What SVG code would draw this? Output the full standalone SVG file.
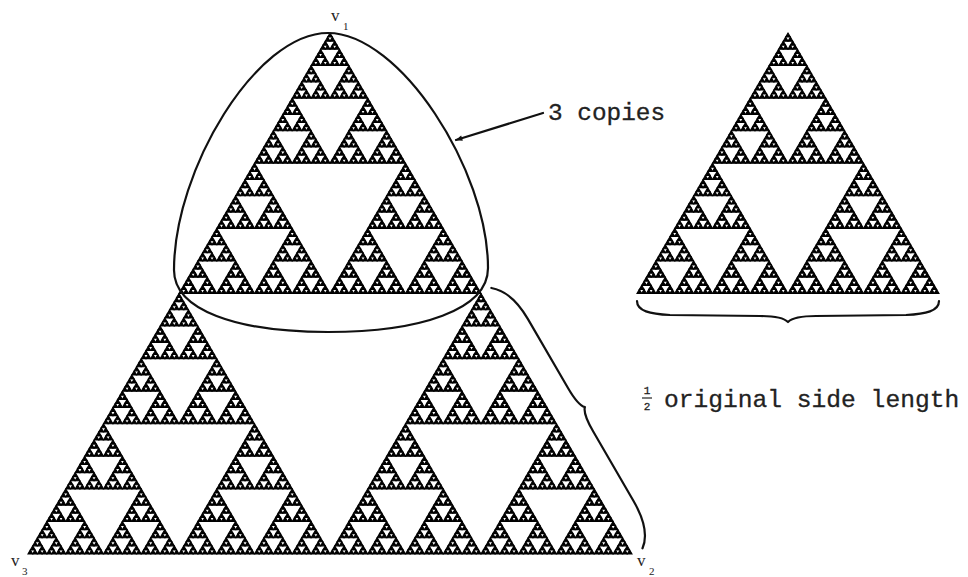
<svg xmlns="http://www.w3.org/2000/svg" xmlns:xlink="http://www.w3.org/1999/xlink" width="968" height="577" viewBox="0 0 968 577">
<style>
.tri{fill:#000;stroke:#000;stroke-width:1.1;stroke-linejoin:miter}
.line{fill:none;stroke:#111;stroke-width:2.2;stroke-linecap:round;stroke-linejoin:round}
.mono{font-family:"Liberation Mono","Courier New",monospace;fill:#222;stroke:#222;stroke-width:0.3}
.lbl{font-family:"Liberation Serif","Times New Roman",serif;fill:#222}
</style>
<defs>
<polygon id="t0" class="tri" points="0,0 2.359375,4.0703125 -2.359375,4.0703125"/>
<g id="t1"><use xlink:href="#t0"/><use xlink:href="#t0" x="-2.359375" y="4.0703125"/><use xlink:href="#t0" x="2.359375" y="4.0703125"/></g>
<g id="t2"><use xlink:href="#t1"/><use xlink:href="#t1" x="-4.71875" y="8.140625"/><use xlink:href="#t1" x="4.71875" y="8.140625"/></g>
<g id="t3"><use xlink:href="#t2"/><use xlink:href="#t2" x="-9.4375" y="16.28125"/><use xlink:href="#t2" x="9.4375" y="16.28125"/></g>
<g id="t4"><use xlink:href="#t3"/><use xlink:href="#t3" x="-18.875" y="32.5625"/><use xlink:href="#t3" x="18.875" y="32.5625"/></g>
<g id="t5"><use xlink:href="#t4"/><use xlink:href="#t4" x="-37.75" y="65.125"/><use xlink:href="#t4" x="37.75" y="65.125"/></g>
<g id="t6"><use xlink:href="#t5"/><use xlink:href="#t5" x="-75.5" y="130.25"/><use xlink:href="#t5" x="75.5" y="130.25"/></g>
<g id="t7"><use xlink:href="#t6"/><use xlink:href="#t6" x="-151" y="260.5"/><use xlink:href="#t6" x="151" y="260.5"/></g>
<marker id="arr" viewBox="0 0 10 10" refX="9" refY="5" markerWidth="8" markerHeight="7" markerUnits="userSpaceOnUse" orient="auto">
<path d="M0,1 L10,5 L0,9 Z" fill="#111"/>
</marker>
</defs>
<rect width="968" height="577" fill="#fff"/>
<g id="big-triangle"><use xlink:href="#t7" x="330" y="33"/></g>
<g id="small-triangle"><use xlink:href="#t6" x="788" y="33"/></g>
<g id="copies-ellipse">
<path class="line" d="M328,33 C400,33 488,170 488,268 C488,310 420,332 328,332 C236,332 174,310 174,270 C174,170 256,33 328,33 Z" stroke-width="2.5"/>
</g>
<g id="connectors">
<line class="line" x1="543" y1="113" x2="456" y2="140" marker-end="url(#arr)"/>
<path class="line" d="M637,301 C637,311 650,314 670,315 L760,316 C775,316 784,318 788,322 C792,318 801,316 816,316 L906,315 C926,314 939,311 939,301"/>
<path class="line" transform="translate(481,294) rotate(59.86)" d="M0,-12 C10,-24 25,-28 45,-28 L125,-28 C138,-28 146,-29 150,-33 C154,-29 162,-28 175,-28 L255,-28 C275,-28 292,-24 301,-12"/>
</g>
<g id="labels">
<text class="lbl" x="331" y="21" font-size="17">v</text><text class="lbl" x="343" y="30" font-size="11">1</text>
<text class="lbl" x="11" y="566" font-size="17">v</text><text class="lbl" x="22" y="575" font-size="11">3</text>
<text class="lbl" x="637" y="566" font-size="17">v</text><text class="lbl" x="649" y="575" font-size="11">2</text>
<text class="mono" x="548" y="120" font-size="24.4">3 copies</text>
<text class="mono" x="647" y="394" font-size="11" text-anchor="middle" stroke-width="0.2">1</text>
<line x1="642" y1="398" x2="652" y2="398" stroke="#222" stroke-width="1.2"/>
<text class="mono" x="647" y="410" font-size="11" text-anchor="middle" stroke-width="0.2">2</text>
<text class="mono" x="664" y="407" font-size="24.6">original side length</text>
</g>
</svg>
